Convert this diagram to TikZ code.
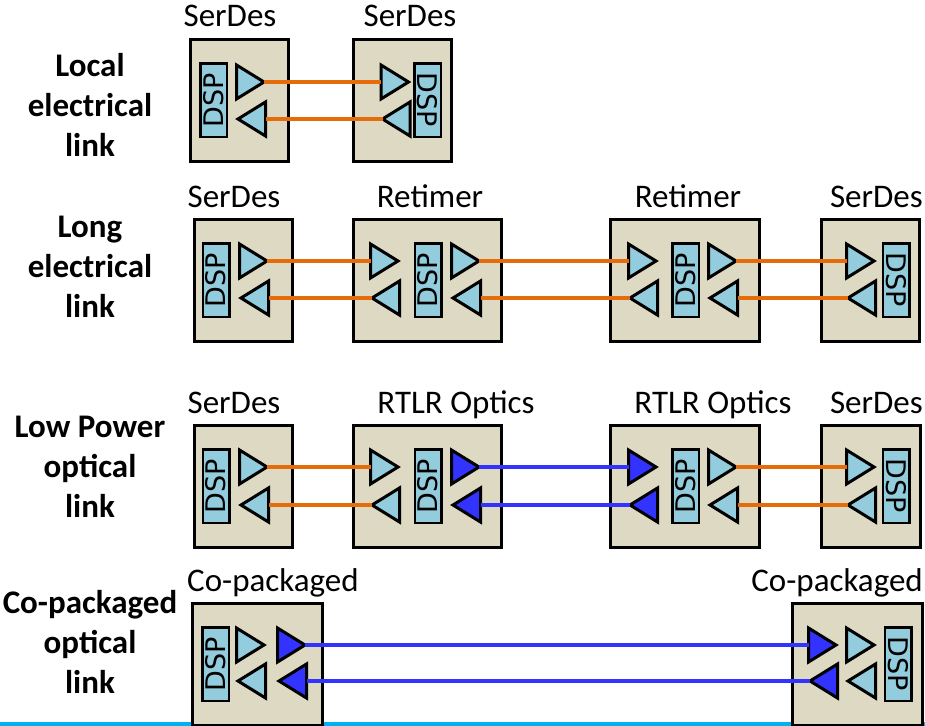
\documentclass[tikz,border=0pt]{standalone}
\usepackage{fontspec}
\setmainfont{Carlito}
\newfontfamily\dspfont{DejaVu Sans}

\definecolor{boxtan}{HTML}{DDD9C3}
\definecolor{dspblue}{HTML}{93CDDD}
\definecolor{optblue}{HTML}{3333FF}
\definecolor{wireorange}{HTML}{E46C0A}
\definecolor{barcyan}{HTML}{00B0F0}

\tikzset{
  pics/trir/.style={code={
    \draw[line width=3pt,fill=#1] (0,-17) -- (27.5,0) -- (0,17) -- cycle;
    \coordinate (-w) at (0,0);
    \coordinate (-e) at (27.5,0);}},
  pics/trir/.default=dspblue,
  pics/tril/.style={code={
    \draw[line width=3pt,fill=#1] (29,-17) -- (1.5,0) -- (29,17) -- cycle;
    \coordinate (-w) at (1.5,0);
    \coordinate (-e) at (29,0);}},
  pics/tril/.default=dspblue}

\begin{document}
\begin{tikzpicture}[x=1pt,y=-1pt,
    chip/.style={draw,line width=3pt,fill=boxtan,anchor=north west,minimum height=122pt,inner sep=0pt},
    dsp/.style={draw,line width=2.5pt,fill=dspblue,minimum width=73.5pt,minimum height=26.5pt,inner sep=0pt,font=\dspfont\fontsize{27}{27}\selectfont},
    chiptitle/.style={font=\fontsize{33}{40}\selectfont,anchor=base,inner sep=0pt},
    rowlabel/.style={font=\bfseries\fontsize{33}{40}\selectfont,align=center,inner sep=0pt},
    eline/.style={line width=4.5pt,wireorange},
    oline/.style={line width=4.5pt,optblue}]
\useasboundingbox (0,0) rectangle (925,725);
\clip (0,0) rectangle (925,725);

% bar along the bottom
\coordinate (barL) at (0,724);
\coordinate (barR) at (925,724);
\draw[line width=4pt,barcyan] (barL) -- (barR);

% row labels
\node[rowlabel] (lab1) at (90,105) {Local\\electrical\\link};
\node[rowlabel] (lab2) at (90,267) {Long\\electrical\\link};
\node[rowlabel] (lab3) at (90,467) {Low Power\\optical\\link};
\node[rowlabel] (lab4) at (90,642) {Co-packaged\\optical\\link};

% local electrical link
\node[chiptitle] (t1L) at (230,27) {SerDes};
\node[chiptitle] (t1R) at (410,27) {SerDes};
\node[chip,minimum width=98pt] (ser1L) at (189,38) {};
\node[chip,minimum width=98pt] (ser1R) at (352,38) {};
\node[dsp,rotate=90] (ser1Ldsp) at (213.5,100) {DSP};
\node[dsp,rotate=-90] (ser1Rdsp) at (427.5,100) {DSP};
\pic (ser1Lu) at (236.5,82) {trir};
\pic (ser1Ld) at (236.5,119) {tril};
\pic (ser1Ru) at (381,82) {trir};
\pic (ser1Rd) at (381,119) {tril};
\draw[eline] (ser1Lu-e) -- (ser1Ru-w);
\draw[eline] (ser1Ld-e) -- (ser1Rd-w);

% long electrical link
\node[chiptitle] (t2a) at (234,207) {SerDes};
\node[chiptitle] (t2b) at (430,207) {Retimer};
\node[chiptitle] (t2c) at (688,207) {Retimer};
\node[chiptitle,anchor=base east] (t2d) at (923,207) {SerDes};
\node[chip,minimum width=98pt] (ser2L) at (193,218) {};
\node[chip,minimum width=148pt] (ret2L) at (352,218) {};
\node[chip,minimum width=149pt] (ret2R) at (609,218) {};
\node[chip,minimum width=98pt] (ser2R) at (820,218) {};
\node[dsp,rotate=90] (ser2Ldsp) at (216,280) {DSP};
\node[dsp,rotate=90] (ret2Ldsp) at (428,280) {DSP};
\node[dsp,rotate=90] (ret2Rdsp) at (685.5,280) {DSP};
\node[dsp,rotate=-90] (ser2Rdsp) at (896,280) {DSP};
\pic (ser2Lu) at (239.5,261) {trir};
\pic (ser2Ld) at (239.5,298) {tril};
\pic (ret2Liu) at (370.5,261) {trir};
\pic (ret2Lid) at (370.5,298) {tril};
\pic (ret2Lou) at (451.5,261) {trir};
\pic (ret2Lod) at (451.5,298) {tril};
\pic (ret2Riu) at (628.5,261) {trir};
\pic (ret2Rid) at (628.5,298) {tril};
\pic (ret2Rou) at (708.5,261) {trir};
\pic (ret2Rod) at (708.5,298) {tril};
\pic (ser2Ru) at (846.5,261) {trir};
\pic (ser2Rd) at (846.5,298) {tril};
\draw[eline] (ser2Lu-e) -- (ret2Liu-w);
\draw[eline] (ser2Ld-e) -- (ret2Lid-w);
\draw[eline] (ret2Lou-e) -- (ret2Riu-w);
\draw[eline] (ret2Lod-e) -- (ret2Rid-w);
\draw[eline] (ret2Rou-e) -- (ser2Ru-w);
\draw[eline] (ret2Rod-e) -- (ser2Rd-w);

% low power optical link
\node[chiptitle] (t3a) at (234,413) {SerDes};
\node[chiptitle] (t3b) at (456,413) {RTLR Optics};
\node[chiptitle] (t3c) at (713,413) {RTLR Optics};
\node[chiptitle,anchor=base east] (t3d) at (923,413) {SerDes};
\node[chip,minimum width=98pt] (ser3L) at (193,424) {};
\node[chip,minimum width=148pt] (rt3L) at (352,424) {};
\node[chip,minimum width=149pt] (rt3R) at (609,424) {};
\node[chip,minimum width=99pt] (ser3R) at (820,424) {};
\node[dsp,rotate=90] (ser3Ldsp) at (216,486) {DSP};
\node[dsp,rotate=90] (rt3Ldsp) at (428,486) {DSP};
\node[dsp,rotate=90] (rt3Rdsp) at (685.5,486) {DSP};
\node[dsp,rotate=-90] (ser3Rdsp) at (896,486) {DSP};
\pic (ser3Lu) at (239.5,467) {trir};
\pic (ser3Ld) at (239.5,505) {tril};
\pic (rt3Liu) at (370.5,467) {trir};
\pic (rt3Lid) at (370.5,505) {tril};
\pic (rt3Lou) at (451.5,467) {trir=optblue};
\pic (rt3Lod) at (451.5,505) {tril=optblue};
\pic (rt3Riu) at (628.5,467) {trir=optblue};
\pic (rt3Rid) at (628.5,505) {tril=optblue};
\pic (rt3Rou) at (708.5,467) {trir};
\pic (rt3Rod) at (708.5,505) {tril};
\pic (ser3Ru) at (846.5,467) {trir};
\pic (ser3Rd) at (846.5,505) {tril};
\draw[eline] (ser3Lu-e) -- (rt3Liu-w);
\draw[eline] (ser3Ld-e) -- (rt3Lid-w);
\draw[oline] (rt3Lou-e) -- (rt3Riu-w);
\draw[oline] (rt3Lod-e) -- (rt3Rid-w);
\draw[eline] (rt3Rou-e) -- (ser3Ru-w);
\draw[eline] (rt3Rod-e) -- (ser3Rd-w);

% co-packaged optical link
\node[chiptitle,anchor=base west] (t4L) at (187,591) {Co-packaged};
\node[chiptitle,anchor=base east] (t4R) at (923,591) {Co-packaged};
\node[chip,minimum width=130pt] (cp4L) at (191,602) {};
\node[chip,minimum width=130pt] (cp4R) at (791,602) {};
\node[dsp,rotate=90] (cp4Ldsp) at (215.5,664) {DSP};
\node[dsp,rotate=-90] (cp4Rdsp) at (898,664) {DSP};
\pic (cp4Lu) at (236.5,645) {trir};
\pic (cp4Ld) at (236.5,681) {tril};
\pic (cp4Lbu) at (277.5,645) {trir=optblue};
\pic (cp4Lbd) at (277.5,681) {tril=optblue};
\pic (cp4Rbu) at (808.5,645) {trir=optblue};
\pic (cp4Rbd) at (808.5,681) {tril=optblue};
\pic (cp4Ru) at (846.5,645) {trir};
\pic (cp4Rd) at (846.5,681) {tril};
\draw[oline] (cp4Lbu-e) -- (cp4Rbu-w);
\draw[oline] (cp4Lbd-e) -- (cp4Rbd-w);
\end{tikzpicture}
\end{document}
